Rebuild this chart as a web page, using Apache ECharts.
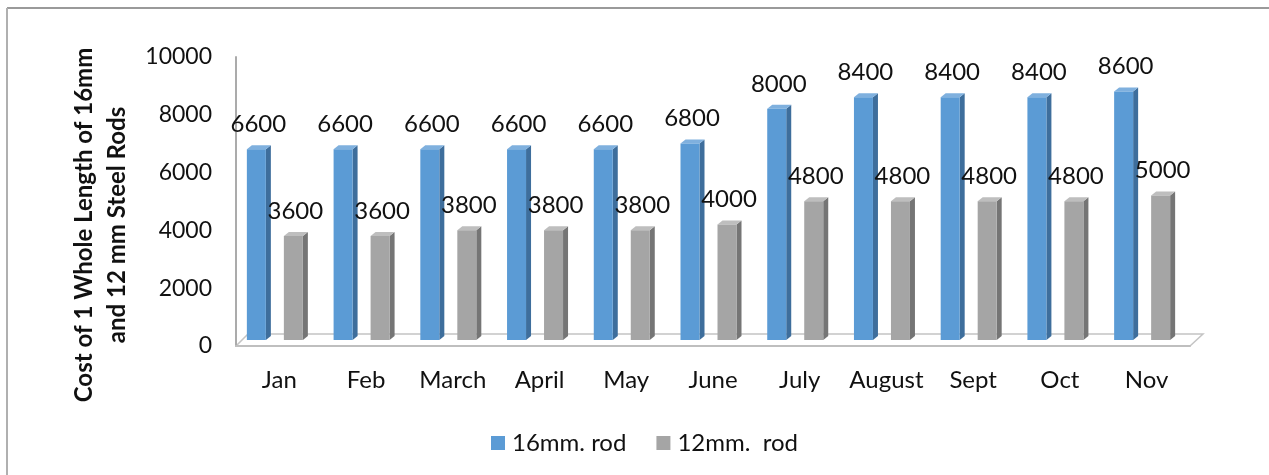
<!DOCTYPE html>
<html>
<head>
<meta charset="utf-8">
<script src="https://cdn.jsdelivr.net/npm/echarts@6/dist/echarts.min.js"></script>
<style>
html,body{margin:0;padding:0;background:#fff;}
#c{width:1269px;height:475px;}
</style>
</head>
<body>
<div id="c"></div>
<script>
var categories = ['Jan','Feb','March','April','May','June','July','August','Sept','Oct','Nov'];
var rod16 = [6600,6600,6600,6600,6600,6800,8000,8400,8400,8400,8600];
var rod12 = [3600,3600,3800,3800,3800,4000,4800,4800,4800,4800,5000];
var yTicks = [0,2000,4000,6000,8000,10000];

var FONT = 'Lato';
var G = {left:236, right:79, top:57, bottom:129};
var W = 1269, H = 475;

function makeRender(offset, front, side, top) {
  return function (params, api) {
    var c = api.value(0), v = api.value(1);
    var p0 = api.coord([c, 0]);
    var p1 = api.coord([c, v]);
    var bw = 19, dx = 5, dy = 4, lift = 6;
    var cx = p0[0] + offset;
    var xl = cx - bw / 2, xr = cx + bw / 2;
    var yb = p0[1] - lift, yt = p1[1] - lift;
    return {
      type: 'group',
      children: [
        {type:'polygon', shape:{points:[[xr,yb],[xr+dx,yb-dy],[xr+dx,yt-dy],[xr,yt]]}, style:{fill:side}},
        {type:'polygon', shape:{points:[[xl,yt],[xr,yt],[xr+dx,yt-dy],[xl+dx,yt-dy]]}, style:{fill:top}},
        {type:'rect', shape:{x:xl, y:yt, width:bw, height:yb-yt}, style:{fill:front}},
        {type:'text', x: cx + 2, y: yt - 25, style:{text: String(v), font: '24px ' + FONT, fill:'#111', align:'center', verticalAlign:'middle'}}
      ]
    };
  };
}

var fx0 = G.left, fx1 = W - G.right, fy = H - G.bottom;

var option = {
  animation: false,
  backgroundColor: '#fff',
  grid: G,
  legend: {
    left: 486, top: 426,
    itemWidth: 14, itemHeight: 14, itemGap: 30,
    icon: 'rect',
    textStyle: {fontFamily: FONT, fontSize: 24, color: '#111', padding: [0,0,0,2]},
    data: ['16mm. rod', '12mm.  rod']
  },
  xAxis: {
    type: 'category',
    data: categories,
    axisLine: {lineStyle: {color: '#BFBFBF', width: 2}},
    axisTick: {show: false},
    axisLabel: {interval: 0, fontFamily: FONT, fontSize: 24, color: '#111', margin: 22}
  },
  yAxis: {
    type: 'value',
    min: 0, max: 10000, interval: 2000,
    axisLine: {show: true, lineStyle: {color: '#ABABAB', width: 2}},
    axisTick: {show: false},
    splitLine: {show: false},
    axisLabel: {fontFamily: FONT, fontSize: 23, color: '#111', margin: 24,
      formatter: function (v) { return yTicks.indexOf(v) >= 0 ? String(v) : ''; }}
  },
  graphic: [
    {type:'line', shape:{x1:7, y1:8, x2:W, y2:8}, style:{stroke:'#9A9A9A', lineWidth:2}},
    {type:'line', shape:{x1:7, y1:8, x2:7, y2:H}, style:{stroke:'#B0B0B0', lineWidth:2}},
    {type:'polyline', shape:{points:[[fx0,fy],[fx0+12,fy-12],[fx1+13,fy-12],[fx1,fy]]}, style:{stroke:'#C4C4C4', lineWidth:1.5, fill:'none'}, z:0},
    {type:'text', x: 101, y: 225, rotation: Math.PI/2,
      style:{text:'Cost of 1 Whole Length of 16mm\nand 12 mm Steel Rods', font:'bold 24px ' + FONT, fill:'#111', align:'center', verticalAlign:'middle', lineHeight:33}}
  ],
  series: [
    {name:'16mm. rod', type:'custom', renderItem: makeRender(-23, '#5B9BD5', '#3E6E9C', '#7FB0DE'),
      itemStyle:{color:'#5B9BD5'}, encode:{x:0, y:1},
      data: rod16.map(function (v, i) { return [i, v]; })},
    {name:'12mm.  rod', type:'custom', renderItem: makeRender(14, '#A5A5A5', '#757575', '#BEBEBE'),
      itemStyle:{color:'#A5A5A5'}, encode:{x:0, y:1},
      data: rod12.map(function (v, i) { return [i, v]; })}
  ]
};

var chart = echarts.init(document.getElementById('c'), null, {renderer:'canvas'});
chart.setOption(option);
</script>
</body>
</html>
